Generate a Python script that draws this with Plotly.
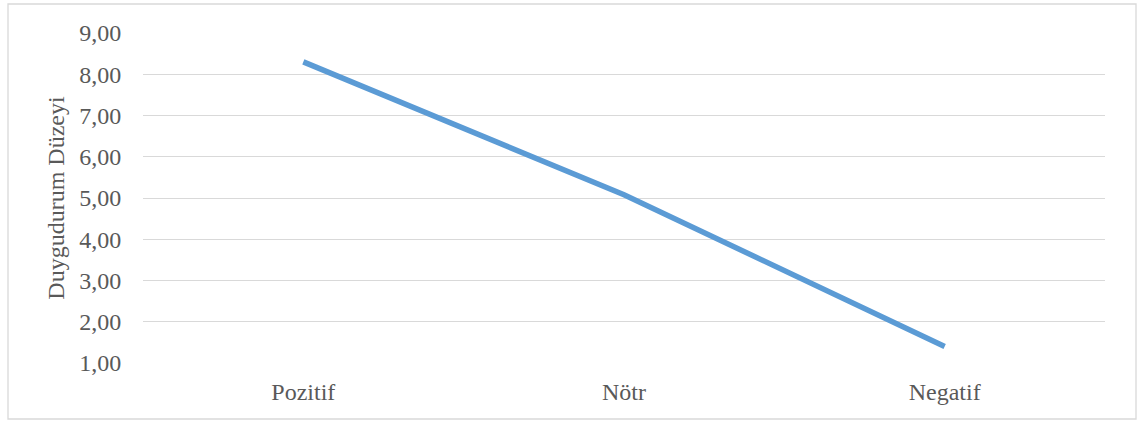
import plotly.graph_objects as go

categories = ["Pozitif", "Nötr", "Negatif"]
values = [8.30, 5.08, 1.40]
y_ticks = [1, 2, 3, 4, 5, 6, 7, 8, 9]
y_tick_labels = ["1,00", "2,00", "3,00", "4,00", "5,00", "6,00", "7,00", "8,00", "9,00"]
y_title = "Duygudurum Düzeyi"

W, H = 1144, 423
L, R, T, B = 143, 39, 33, 60
pw, ph = W - L - R, H - T - B

FAM = "Liberation Serif, Times New Roman, serif"
font = dict(family=FAM, size=24, color="#595959")

fig = go.Figure()
fig.add_trace(go.Scatter(
    x=categories, y=values, mode="lines",
    line=dict(color="#5B9BD5", width=5.5),
    hoverinfo="x+y",
))

fig.update_layout(
    width=W, height=H,
    margin=dict(l=L, r=R, t=T, b=B),
    paper_bgcolor="white", plot_bgcolor="white",
    font=font,
    showlegend=False,
    xaxis=dict(
        type="category", range=[-0.5, 2.5],
        showgrid=False, zeroline=False, showline=False,
        ticks="outside", ticklen=7, tickcolor="rgba(0,0,0,0)",
        tickfont=font,
    ),
    yaxis=dict(
        range=[1, 9], tickvals=y_ticks, ticktext=y_tick_labels,
        showgrid=True, gridcolor="#D9D9D9", gridwidth=1.3,
        zeroline=False, showline=False,
        ticks="outside", ticklen=16, tickcolor="rgba(0,0,0,0)",
        tickfont=font,
        title=dict(text=y_title, font=dict(family=FAM, size=24, color="#595959"), standoff=7),
    ),
)

# outer chart border
x0, x1, y0, y1 = 8, 1136, 4, 419
fig.add_shape(
    type="rect", xref="paper", yref="paper",
    x0=(x0 - L) / pw, x1=(x1 - L) / pw,
    y0=(H - B - y1) / ph, y1=(H - B - y0) / ph,
    line=dict(color="#D9D9D9", width=1.3), fillcolor="rgba(0,0,0,0)", layer="below",
)

fig.write_html("out.html", config={"displayModeBar": False},
               post_script="document.body.style.margin='0';")
